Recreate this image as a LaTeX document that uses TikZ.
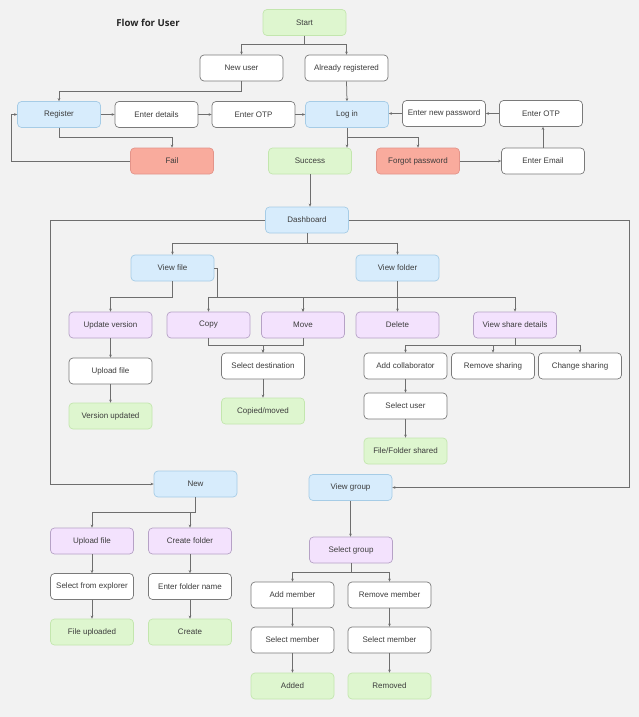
\documentclass[tikz,border=0pt]{standalone}
\usepackage{fontspec}
\setmainfont{Liberation Sans}
\newfontfamily\titlefont{Open Sans}
\usetikzlibrary{arrows.meta}

\definecolor{bg}{HTML}{F2F2F2}
\definecolor{ink}{HTML}{3C3C3C}
\definecolor{wire}{HTML}{6E6E6E}
\definecolor{wborder}{HTML}{7A7A7A}
\definecolor{gfill}{HTML}{DEF6CF}
\definecolor{gborder}{HTML}{C3E6AE}
\definecolor{bfill}{HTML}{D7ECFC}
\definecolor{bborder}{HTML}{A6CCE6}
\definecolor{rfill}{HTML}{F9AB9D}
\definecolor{rborder}{HTML}{E3948A}
\definecolor{pfill}{HTML}{F3E2FD}
\definecolor{pborder}{HTML}{B6A2C6}

\tikzset{
  box/.style={rounded corners=4pt, minimum width=83pt, minimum height=26pt,
    inner sep=0pt, line width=0.7pt, font=\fontsize{8}{9}\selectfont, text=ink},
  wbox/.style={box, draw=wborder, fill=white},
  gbox/.style={box, draw=gborder, fill=gfill},
  bbox/.style={box, draw=bborder, fill=bfill},
  rbox/.style={box, draw=rborder, fill=rfill},
  pbox/.style={box, draw=pborder, fill=pfill},
  arr/.style={draw=wire, line width=0.75pt, -{Stealth[length=3pt,width=2.6pt]}},
  link/.style={draw=wire, line width=0.75pt}
}

\begin{document}
\begin{tikzpicture}[x=1pt, y=-1pt]
  \fill[bg] (0,0) rectangle (639,717);
  \useasboundingbox (0,0) rectangle (639,717);

  \node[font=\titlefont\bfseries\fontsize{9.6}{11}\selectfont, text=black!85] (title) at (148,22.5) {Flow for User};

  % sign-up and log-in
  \node[gbox] (start)  at (304.5,22.5) {Start};
  \node[wbox] (newu)   at (241.5,68)   {New user};
  \node[wbox] (already) at (346.5,68)  {Already registered};
  \node[bbox] (reg)    at (59,114.5)   {Register};
  \node[wbox] (details) at (156.5,114.5) {Enter details};
  \node[wbox] (otp1)   at (253.5,114.5) {Enter OTP};
  \node[bbox] (login)  at (347,114.5)  {Log in};
  \node[wbox] (newpw)  at (444,113.5)  {Enter new password};
  \node[wbox] (otp2)   at (541,113.5)  {Enter OTP};
  \node[rbox] (fail)   at (172,161)    {Fail};
  \node[gbox] (success) at (310,161)   {Success};
  \node[rbox] (forgot) at (418,161)    {Forgot password};
  \node[wbox] (email)  at (543,161)    {Enter Email};

  % dashboard
  \node[bbox] (dash)   at (307,220)    {Dashboard};
  \node[bbox] (vfile)  at (172.5,268)  {View file};
  \node[bbox] (vfolder) at (397.5,268) {View folder};
  \node[pbox] (upd)    at (110.5,325)  {Update version};
  \node[pbox] (copy)   at (208.5,325)  {Copy};
  \node[pbox] (move)   at (303,325)    {Move};
  \node[pbox] (delete) at (397.5,325)  {Delete};
  \node[pbox] (vsd)    at (515,325)    {View share details};
  \node[wbox] (upl)    at (110.5,371)  {Upload file};
  \node[gbox] (verup)  at (110.5,416)  {Version updated};
  \node[wbox] (seldest) at (263,366)   {Select destination};
  \node[gbox] (copied) at (263,411)    {Copied/moved};
  \node[wbox] (addc)   at (405.5,366)  {Add collaborator};
  \node[wbox] (rems)   at (493,366)    {Remove sharing};
  \node[wbox] (chs)    at (580,366)    {Change sharing};
  \node[wbox] (seluser) at (405.5,406) {Select user};
  \node[gbox] (shared) at (405.5,451)  {File/Folder shared};

  % new items
  \node[bbox] (new)    at (195.5,484)  {New};
  \node[pbox] (upl2)   at (92,541)     {Upload file};
  \node[pbox] (createf) at (190,541)   {Create folder};
  \node[wbox] (selexp) at (92,586.5)   {Select from explorer};
  \node[wbox] (fname)  at (190,586.5)  {Enter folder name};
  \node[gbox] (fileup) at (92,632)     {File uploaded};
  \node[gbox] (create) at (190,632)    {Create};

  % groups
  \node[bbox] (vgroup) at (350.5,487.5) {View group};
  \node[pbox] (selg)   at (351,550)    {Select group};
  \node[wbox] (addm)   at (292.5,595)  {Add member};
  \node[wbox] (remm)   at (389.5,595)  {Remove member};
  \node[wbox] (selm1)  at (292.5,640)  {Select member};
  \node[wbox] (selm2)  at (389.5,640)  {Select member};
  \node[gbox] (added)  at (292.5,686)  {Added};
  \node[gbox] (removed) at (389.5,686) {Removed};

  % connectors: sign-up and log-in
  \draw[arr] (start.south) -- ++(0,9) -| (newu.north);
  \draw[arr] (start.south) -- ++(0,9) -| (already.north);
  \draw[arr] (newu.south) -- ++(0,10) -| (reg.north);
  \draw[arr] (already.south) -- (login.north);
  \draw[arr] (reg.east) -- (details.west);
  \draw[arr] (details.east) -- (otp1.west);
  \draw[arr] (otp1.east) -- (login.west);
  \draw[arr] (reg.south) -- ++(0,10) -| (fail.north);
  \draw[arr] (fail.west) -- ++(-119,0) |- (reg.west);
  \draw[arr] (login.south) -- (login.south |- success.north);
  \draw[arr] (login.south) -- ++(0,10) -| (forgot.north);
  \draw[arr] (forgot.east) -- (email.west);
  \draw[arr] (email.north) -- (email.north |- otp2.south);
  \draw[arr] (otp2.west) -- (newpw.east);
  \draw[arr] (newpw.west) -- (newpw.west -| login.east);
  \draw[arr] (success.south) -- (success.south |- dash.north);

  % connectors: dashboard
  \draw[arr] (dash.west) -- ++(-215,0) |- (new.west);
  \draw[arr] (dash.east) -- ++(281,0) |- (vgroup.east);
  \draw[arr] (dash.south) -- ++(0,10) -| (vfile.north);
  \draw[arr] (dash.south) -- ++(0,10) -| (vfolder.north);
  \draw[arr] (vfile.south) -- ++(0,16) -| (upd.north);
  \draw[arr] (vfile.east) -- ++(3,0) -- ++(0,29) -| (copy.north);
  \draw[arr] (vfile.east) -- ++(3,0) -- ++(0,29) -| (move.north);
  \draw[arr] (vfolder.south) -- ++(0,16) -| (move.north);
  \draw[arr] (vfolder.south) -- (delete.north);
  \draw[arr] (vfolder.south) -- ++(0,16) -| (vsd.north);
  \draw[arr] (upd.south) -- (upl.north);
  \draw[arr] (upl.south) -- (verup.north);
  \draw[arr] (copy.south) -- ++(0,7) -| (seldest.north);
  \draw[arr] (move.south) -- ++(0,7) -| (seldest.north);
  \draw[arr] (seldest.south) -- (copied.north);
  \draw[arr] (vsd.south) -- ++(0,7) -| (addc.north);
  \draw[arr] (vsd.south) -- ++(0,7) -| (rems.north);
  \draw[arr] (vsd.south) -- ++(0,7) -| (chs.north);
  \draw[arr] (addc.south) -- (seluser.north);
  \draw[arr] (seluser.south) -- (shared.north);

  % connectors: new items
  \draw[arr] (new.south) -- ++(0,15) -| (upl2.north);
  \draw[arr] (new.south) -- ++(0,15) -| (createf.north);
  \draw[arr] (upl2.south) -- (selexp.north);
  \draw[arr] (selexp.south) -- (fileup.north);
  \draw[arr] (createf.south) -- (fname.north);
  \draw[arr] (fname.south) -- (create.north);

  % connectors: groups
  \draw[arr] (vgroup.south) -- (vgroup.south |- selg.north);
  \draw[arr] (selg.south) -- ++(0,9) -| (addm.north);
  \draw[arr] (selg.south) -- ++(0,9) -| (remm.north);
  \draw[arr] (addm.south) -- (selm1.north);
  \draw[arr] (selm1.south) -- (added.north);
  \draw[arr] (remm.south) -- (selm2.north);
  \draw[arr] (selm2.south) -- (removed.north);
\end{tikzpicture}
\end{document}
